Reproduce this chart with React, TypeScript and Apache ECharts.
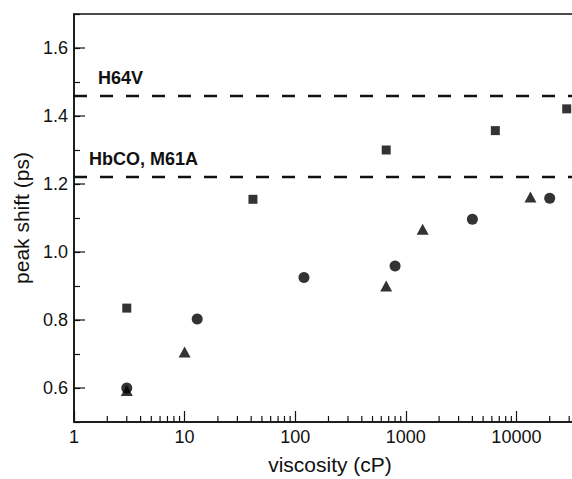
import React, { useEffect, useRef } from 'react';
import * as echarts from 'echarts';

// ---- data ----
const squareX = [3, 41.5, 665, 6450, 28500];
const squareY = [0.835, 1.155, 1.3, 1.357, 1.421];
const circleX = [3, 13, 120, 800, 4000, 20000];
const circleY = [0.6, 0.803, 0.925, 0.959, 1.096, 1.158];
const triangleX = [3, 10, 665, 1420, 13400];
const triangleY = [0.593, 0.706, 0.9, 1.067, 1.162];
const referenceLevels = [1.46, 1.22];
const referenceLabels = ['H64V', 'HbCO, M61A'];
const referenceLabelX = [98, 89];
const xDecades = [1, 10, 100, 1000, 10000];
const minorMultipliers = [2, 3, 4, 5, 6, 7, 8, 9];
const yMajorTicks = [0.6, 0.8, 1.0, 1.2, 1.4, 1.6];

const FONT = '"Liberation Sans", Arial, Helvetica, sans-serif';
const INK = '#111';

export default function App() {
  const ref = useRef<HTMLDivElement>(null);

  useEffect(() => {
    document.body.style.margin = '0';
    if (!ref.current) return;
    const chart = echarts.init(ref.current, undefined, { renderer: 'svg' });

    const xMinorTicks: number[][] = [];
    xDecades.forEach((d) => minorMultipliers.forEach((m) => xMinorTicks.push([d * m, 0.5])));

    const option: any = {
      animation: false,
      backgroundColor: '#fff',
      grid: {
        left: 74,
        top: 14,
        width: 553,
        height: 408,
        containLabel: false,
        outerBoundsMode: 'none',
        show: true,
        borderColor: INK,
        borderWidth: 1.5,
        backgroundColor: 'transparent',
      },
      xAxis: {
        type: 'log',
        logBase: 10,
        min: 1,
        max: 100000,
        splitNumber: 5,
        name: 'viscosity (cP)',
        nameLocation: 'middle',
        nameGap: 32,
        nameTextStyle: { fontSize: 21, color: INK, fontFamily: FONT, padding: [0, 41, 0, 0] },
        axisLine: { show: true, lineStyle: { color: INK, width: 1.5 } },
        axisTick: { show: true, inside: true, length: 11, lineStyle: { color: INK, width: 1.2 } },
        axisLabel: {
          fontSize: 18,
          color: INK,
          fontFamily: FONT,
          margin: 6,
          showMaxLabel: false,
          formatter: (v: number) => (v > 50000 ? '' : String(Math.round(v))),
        },
        splitLine: { show: false },
      },
      yAxis: {
        type: 'value',
        min: 0.5,
        max: 1.7,
        interval: 0.1,
        name: 'peak shift (ps)',
        nameLocation: 'middle',
        nameGap: 38,
        nameTextStyle: { fontSize: 21, color: INK, fontFamily: FONT },
        axisLine: { show: true, lineStyle: { color: INK, width: 1.5 } },
        axisTick: { show: true, inside: true, length: 6, lineStyle: { color: INK, width: 1.2 } },
        axisLabel: {
          fontSize: 18,
          color: INK,
          fontFamily: FONT,
          margin: 6,
          formatter: (v: number) => (Math.round(v * 10) % 2 === 0 ? v.toFixed(1) : ''),
        },
        splitLine: { show: false },
      },
      series: [
        {
          name: 'x minor ticks',
          type: 'custom',
          silent: true,
          data: xMinorTicks,
          renderItem: (_p: any, api: any) => {
            const pt = api.coord([api.value(0), api.value(1)]);
            return {
              type: 'line',
              shape: { x1: pt[0], y1: pt[1], x2: pt[0], y2: pt[1] - 6 },
              style: { stroke: INK, lineWidth: 1.2 },
            };
          },
        },
        {
          name: 'y major ticks',
          type: 'custom',
          silent: true,
          data: yMajorTicks.map((v) => [1, v]),
          renderItem: (_p: any, api: any) => {
            const pt = api.coord([api.value(0), api.value(1)]);
            return {
              type: 'line',
              shape: { x1: pt[0], y1: pt[1], x2: pt[0] + 11, y2: pt[1] },
              style: { stroke: INK, lineWidth: 1.2 },
            };
          },
        },
        {
          name: 'reference',
          type: 'line',
          data: [],
          markLine: {
            silent: true,
            symbol: 'none',
            label: { show: false },
            lineStyle: { color: INK, width: 2.3, type: [13, 13] },
            data: referenceLevels.map((y) => ({ yAxis: y })),
          },
        },
        {
          name: 'triangles',
          type: 'scatter',
          symbol: 'triangle',
          symbolSize: [12, 11],
          itemStyle: { color: '#000' },
          data: triangleX.map((x, i) => [x, triangleY[i]]),
        },
        {
          name: 'circles',
          type: 'scatter',
          symbol: 'circle',
          symbolSize: 11,
          itemStyle: { color: '#000' },
          data: circleX.map((x, i) => [x, circleY[i]]),
        },
        {
          name: 'squares',
          type: 'scatter',
          symbol: 'rect',
          symbolSize: 9,
          itemStyle: { color: '#000' },
          data: squareX.map((x, i) => [x, squareY[i]]),
        },
      ],
    };

    chart.setOption(option);

    const graphics = referenceLevels.map((lvl, i) => {
      const p = chart.convertToPixel({ gridIndex: 0 }, [1, lvl]) as number[];
      return {
        type: 'text',
        left: referenceLabelX[i],
        top: p[1] - 27,
        style: {
          text: referenceLabels[i],
          font: `bold 18px ${FONT}`,
          fill: INK,
        },
      };
    });
    chart.setOption({ graphic: graphics });

    return () => chart.dispose();
  }, []);

  return <div ref={ref} style={{ width: 572, height: 479 }} />;
}
